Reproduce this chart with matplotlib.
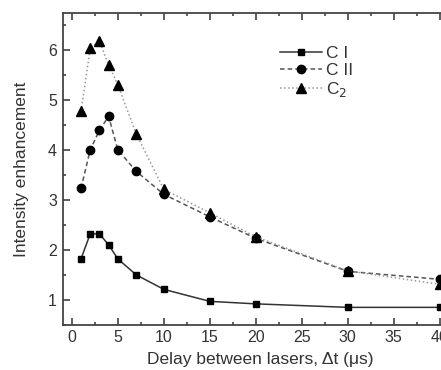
import matplotlib.pyplot as plt
from matplotlib.ticker import MultipleLocator

plt.rcParams['font.family'] = ['Liberation Sans', 'DejaVu Sans']

delay = [1, 2, 3, 4, 5, 7, 10, 15, 20, 30, 40]
c1 = [1.82, 2.32, 2.32, 2.10, 1.82, 1.50, 1.21, 0.97, 0.92, 0.85, 0.85]
c2_ion = [3.23, 4.00, 4.39, 4.67, 4.00, 3.57, 3.11, 2.66, 2.23, 1.57, 1.41]
c2_mol = [4.77, 6.03, 6.17, 5.70, 5.30, 4.32, 3.21, 2.74, 2.26, 1.58, 1.31]

txt = '#333333'
fig = plt.figure(figsize=(4.41, 3.70), dpi=100)
ax = fig.add_axes([0.142, 0.122, 0.897, 0.842])

ax.plot(delay, c1, '-', color='#333333', lw=1.1, marker='s', ms=5,
        mfc='black', mec='black', label='C I')
ax.plot(delay, c2_ion, '--', color='#555555', lw=1.1, marker='o', ms=6,
        mfc='black', mec='black', dashes=(3, 2), label='C II')
ax.plot(delay, c2_mol, ':', color='#999999', lw=1.1, marker='^', ms=6.5,
        mfc='black', mec='black', label='C$_2$')

ax.set_xlim(-1, 42)
ax.set_ylim(0.5, 6.73)
ax.xaxis.set_major_locator(MultipleLocator(5))
ax.xaxis.set_minor_locator(MultipleLocator(2.5))
ax.yaxis.set_major_locator(MultipleLocator(1))
ax.yaxis.set_minor_locator(MultipleLocator(0.5))
ax.set_yticks([1, 2, 3, 4, 5, 6])
ax.tick_params(which='both', direction='in', top=True, right=False,
               colors=txt, labelsize=11.5, width=1.1)
ax.tick_params(which='major', length=5, pad=4)
ax.tick_params(which='minor', length=2.5)
for s in ax.spines.values():
    s.set_color('#444444')
    s.set_linewidth(1.3)

ax.set_xlabel('Delay between lasers, \u0394t (\u03bcs)', fontsize=12.5,
              color=txt, labelpad=5)
ax.set_ylabel('Intensity enhancement', fontsize=12.5, color=txt, labelpad=14)

leg = ax.legend(loc='upper left', bbox_to_anchor=(0.52, 0.935),
                frameon=False, fontsize=12.5, handlelength=2.4,
                handletextpad=0.2, labelspacing=0.12, borderpad=0.2)
for t in leg.get_texts():
    t.set_color(txt)

fig.savefig('out.png', dpi=100)
